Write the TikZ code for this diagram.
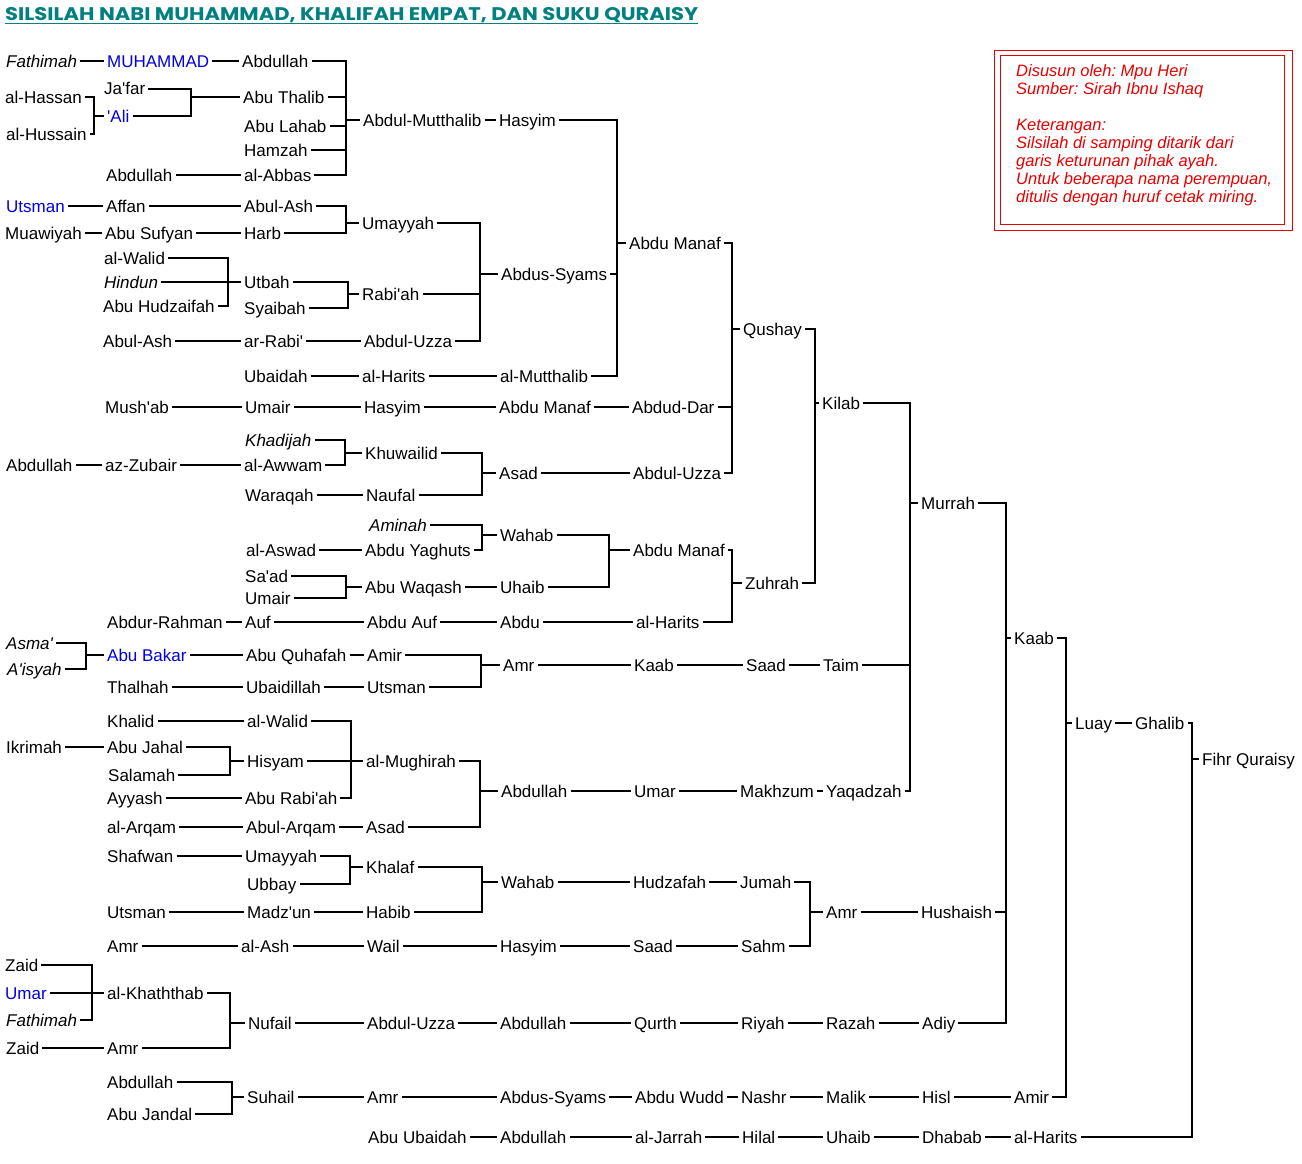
\documentclass[tikz,border=0pt]{standalone}
\usepackage{fontspec}
\usepackage{graphicx}
\setmainfont{Liberation Sans}
\newfontfamily\titlefont{Poppins}
\definecolor{titleteal}{RGB}{0,128,128}
\definecolor{nabiblue}{RGB}{0,0,230}
\definecolor{notered}{RGB}{230,0,0}
\newcommand{\ap}{\textquotesingle}
% children on the left joined by one bar to the parent on the right
\newcommand{\sibs}[3]{\foreach \kid in {#3}{\draw[ln] (\kid.east) -- (\kid.east -| #1) |- (#2.west);}}

\begin{document}
\frenchspacing
\begin{tikzpicture}[x=1pt, y=-1pt,
    every node/.style={anchor=west, inner xsep=3pt, inner ysep=1pt, text height=12pt, text depth=0pt, font=\fontsize{17}{20}\selectfont},
    ln/.style={line width=2pt},
    fem/.style={font=\fontsize{17}{20}\selectfont\itshape},
    nabi/.style={text=nabiblue}]
  \fill[white] (0,0) rectangle (1302,1164);
  \useasboundingbox (0,0) rectangle (1302,1164);

  % title and note
  \node[anchor=base west, inner sep=0pt, text height=, text depth=, text=titleteal, font=\titlefont\bfseries] (title) at (5,21) {\resizebox{693pt}{13pt}{SILSILAH NABI MUHAMMAD, KHALIFAH EMPAT, DAN SUKU QURAISY}};
  \draw[titleteal, line width=1.5pt] ([yshift=-2.5pt]title.base west) -- ([yshift=-2.5pt]title.base east);
  \draw[notered, line width=1pt] (994,51) rectangle (1292,230);
  \draw[notered, line width=1pt] (1000,56) rectangle (1284,224);
  \node[anchor=north west, inner sep=0pt, text height=, text depth=, align=left, text=notered, font=\fontsize{16.5}{18}\selectfont\itshape] (note) at (1016,64) {Disusun oleh: Mpu Heri\\Sumber: Sirah Ibnu Ishaq\\[18pt]Keterangan:\\Silsilah di samping ditarik dari\\garis keturunan pihak ayah.\\Untuk beberapa nama perempuan,\\ditulis dengan huruf cetak miring.};

  % column 1
  \node[fem] (fathimahA) at (3,61) {Fathimah};
  \node (hassan) at (2,97) {al-Hassan};
  \node (hussain) at (3,134) {al-Hussain};
  \node[nabi] (utsmanA) at (3,206) {Utsman};
  \node (muawiyah) at (2,233) {Muawiyah};
  \node (abdullahZ) at (3,465) {Abdullah};
  \node[fem] (asma) at (3,643) {Asma\ap};
  \node[fem] (aisyah) at (4,669) {A\ap isyah};
  \node (ikrimah) at (3,747) {Ikrimah};
  \node (zaidA) at (2,965) {Zaid};
  \node[nabi] (umarA) at (2,993) {Umar};
  \node[fem] (fathimahB) at (3,1020) {Fathimah};
  \node (zaidB) at (3,1048) {Zaid};

  % column 2
  \node[nabi] (muhammad) at (104,61) {MUHAMMAD};
  \node (jafar) at (101,89) {Ja\ap far};
  \node[nabi] (ali) at (104,116) {\ap Ali};
  \node (abdullahB) at (103,175) {Abdullah};
  \node (affan) at (103,206) {Affan};
  \node (abusufyan) at (102,233) {Abu Sufyan};
  \node (walidA) at (101,258) {al-Walid};
  \node[fem] (hindun) at (101,282) {Hindun};
  \node (abuhudzaifah) at (100,306) {Abu Hudzaifah};
  \node (abulashA) at (100,341) {Abul-Ash};
  \node (mushab) at (102,407) {Mush\ap ab};
  \node (zubair) at (102,465) {az-Zubair};
  \node (abdurrahman) at (104,622) {Abdur-Rahman};
  \node[nabi] (abubakar) at (104,655) {Abu Bakar};
  \node (thalhah) at (104,687) {Thalhah};
  \node (khalid) at (104,721) {Khalid};
  \node (abujahal) at (104,747) {Abu Jahal};
  \node (salamah) at (105,775) {Salamah};
  \node (ayyash) at (104,798) {Ayyash};
  \node (arqam) at (104,827) {al-Arqam};
  \node (shafwan) at (104,856) {Shafwan};
  \node (utsmanM) at (104,912) {Utsman};
  \node (amrA) at (104,946) {Amr};
  \node (khaththab) at (104,993) {al-Khaththab};
  \node (amrK) at (104,1048) {Amr};
  \node (abdullahS) at (104,1082) {Abdullah};
  \node (abujandal) at (104,1114) {Abu Jandal};

  % column 3
  \node (abdullahM) at (239,61) {Abdullah};
  \node (abuthalib) at (240,97) {Abu Thalib};
  \node (abulahab) at (241,126) {Abu Lahab};
  \node (hamzah) at (241,150) {Hamzah};
  \node (abbas) at (241,175) {al-Abbas};
  \node (abulashB) at (241,206) {Abul-Ash};
  \node (harb) at (241,233) {Harb};
  \node (utbah) at (241,282) {Utbah};
  \node (syaibah) at (241,308) {Syaibah};
  \node (rabi) at (241,341) {ar-Rabi\ap};
  \node (ubaidah) at (241,376) {Ubaidah};
  \node (umairA) at (242,407) {Umair};
  \node[fem] (khadijah) at (242,440) {Khadijah};
  \node (awwam) at (241,465) {al-Awwam};
  \node (waraqah) at (242,495) {Waraqah};
  \node (aswad) at (243,550) {al-Aswad};
  \node (saadW) at (242,576) {Sa\ap ad};
  \node (umairB) at (242,598) {Umair};
  \node (auf) at (242,622) {Auf};
  \node (abuquhafah) at (243,655) {Abu Quhafah};
  \node (ubaidillah) at (243,687) {Ubaidillah};
  \node (walidB) at (244,721) {al-Walid};
  \node (hisyam) at (244,761) {Hisyam};
  \node (aburabiah) at (242,798) {Abu Rabi\ap ah};
  \node (abularqam) at (243,827) {Abul-Arqam};
  \node (umayyahB) at (242,856) {Umayyah};
  \node (ubbay) at (244,884) {Ubbay};
  \node (madzun) at (244,912) {Madz\ap un};
  \node (ash) at (238,946) {al-Ash};
  \node (nufail) at (245,1023) {Nufail};
  \node (suhail) at (244,1097) {Suhail};

  % column 4
  \node (mutthalibA) at (360,120) {Abdul-Mutthalib};
  \node (umayyahA) at (359,223) {Umayyah};
  \node (rabiah) at (359,294) {Rabi\ap ah};
  \node (uzzaA) at (361,341) {Abdul-Uzza};
  \node (haritsA) at (359,376) {al-Harits};
  \node (hasyimB) at (361,407) {Hasyim};
  \node (khuwailid) at (362,453) {Khuwailid};
  \node (naufal) at (363,495) {Naufal};
  \node[fem] (aminah) at (366,525) {Aminah};
  \node (yaghuts) at (362,550) {Abdu Yaghuts};
  \node (abuwaqash) at (362,587) {Abu Waqash};
  \node (abduauf) at (364,622) {Abdu Auf};
  \node (amirA) at (364,655) {Amir};
  \node (utsmanT) at (364,687) {Utsman};
  \node (mughirah) at (363,761) {al-Mughirah};
  \node (asadM) at (363,827) {Asad};
  \node (khalaf) at (363,867) {Khalaf};
  \node (habib) at (363,912) {Habib};
  \node (wail) at (364,946) {Wail};
  \node (uzzaB) at (364,1023) {Abdul-Uzza};
  \node (amrS) at (364,1097) {Amr};
  \node (abuubaidah) at (365,1137) {Abu Ubaidah};

  % column 5
  \node (hasyimA) at (496,120) {Hasyim};
  \node (syamsA) at (498,274) {Abdus-Syams};
  \node (mutthalibB) at (497,376) {al-Mutthalib};
  \node (abdumanafC) at (496,407) {Abdu Manaf};
  \node (asadK) at (496,473) {Asad};
  \node (wahabZ) at (497,535) {Wahab};
  \node (uhaibA) at (497,587) {Uhaib};
  \node (abdu) at (497,622) {Abdu};
  \node (amrT) at (500,665) {Amr};
  \node (abdullahMk) at (498,791) {Abdullah};
  \node (wahabJ) at (498,882) {Wahab};
  \node (hasyimS) at (497,946) {Hasyim};
  \node (abdullahA) at (497,1023) {Abdullah};
  \node (syamsB) at (497,1097) {Abdus-Syams};
  \node (abdullahJ) at (497,1137) {Abdullah};

  % column 6
  \node (abdumanafA) at (626,243) {Abdu Manaf};
  \node (abduddar) at (629,407) {Abdud-Dar};
  \node (uzzaQ) at (630,473) {Abdul-Uzza};
  \node (abdumanafZ) at (630,550) {Abdu Manaf};
  \node (haritsZ) at (633,622) {al-Harits};
  \node (kaabT) at (631,665) {Kaab};
  \node (umarM) at (631,791) {Umar};
  \node (hudzafah) at (630,882) {Hudzafah};
  \node (saadS) at (630,946) {Saad};
  \node (qurth) at (631,1023) {Qurth};
  \node (abduwudd) at (632,1097) {Abdu Wudd};
  \node (jarrah) at (632,1137) {al-Jarrah};

  % column 7
  \node (qushay) at (740,329) {Qushay};
  \node (zuhrah) at (742,583) {Zuhrah};
  \node (saadT) at (743,665) {Saad};
  \node (makhzum) at (737,791) {Makhzum};
  \node (jumah) at (737,882) {Jumah};
  \node (sahm) at (738,946) {Sahm};
  \node (riyah) at (738,1023) {Riyah};
  \node (nashr) at (738,1097) {Nashr};
  \node (hilal) at (739,1137) {Hilal};

  % column 8
  \node (kilab) at (819,403) {Kilab};
  \node (taim) at (820,665) {Taim};
  \node (yaqadzah) at (823,791) {Yaqadzah};
  \node (amrH) at (823,912) {Amr};
  \node (razah) at (823,1023) {Razah};
  \node (malik) at (823,1097) {Malik};
  \node (uhaibB) at (823,1137) {Uhaib};

  % columns 9 to 11
  \node (murrah) at (918,503) {Murrah};
  \node (hushaish) at (918,912) {Hushaish};
  \node (adiy) at (919,1023) {Adiy};
  \node (hisl) at (919,1097) {Hisl};
  \node (dhabab) at (919,1137) {Dhabab};
  \node (kaabM) at (1011,638) {Kaab};
  \node (amirL) at (1011,1097) {Amir};
  \node (haritsF) at (1011,1137) {al-Harits};
  \node (luay) at (1072,723) {Luay};
  \node (ghalib) at (1132,723) {Ghalib};
  \node (fihr) at (1199,759) {Fihr Quraisy};

  % bars
  \coordinate (barKh) at (92,0);
  \coordinate (barHn) at (94,0);
  \coordinate (barAB) at (86,0);
  \coordinate (barJf) at (191,0);
  \coordinate (barUt) at (228,0);
  \coordinate (barHy) at (230,0);
  \coordinate (barNf) at (230,0);
  \coordinate (barSh) at (232,0);
  \coordinate (barKw) at (345,0);
  \coordinate (barMt) at (346,0);
  \coordinate (barUm) at (346,0);
  \coordinate (barAW) at (346,0);
  \coordinate (barRb) at (348,0);
  \coordinate (barKf) at (350,0);
  \coordinate (barMg) at (351,0);
  \coordinate (barAS) at (480,0);
  \coordinate (barAd) at (480,0);
  \coordinate (barAr) at (481,0);
  \coordinate (barAsd) at (482,0);
  \coordinate (barWh) at (482,0);
  \coordinate (barWb) at (482,0);
  \coordinate (barAM) at (609,0);
  \coordinate (barHs) at (617,0);
  \coordinate (barQs) at (732,0);
  \coordinate (barZh) at (732,0);
  \coordinate (barAm) at (810,0);
  \coordinate (barKl) at (815,0);
  \coordinate (barMr) at (910,0);
  \coordinate (barKb) at (1006,0);
  \coordinate (barLy) at (1066,0);
  \coordinate (barFh) at (1192,0);

  % families
  \sibs{barHn}{ali}{hassan,hussain}
  \sibs{barJf}{abuthalib}{jafar,ali}
  \sibs{barMt}{mutthalibA}{abdullahM,abuthalib,abulahab,hamzah,abbas}
  \sibs{barHs}{abdumanafA}{hasyimA,syamsA,mutthalibB}
  \sibs{barQs}{qushay}{abdumanafA,abduddar,uzzaQ}
  \sibs{barZh}{zuhrah}{abdumanafZ,haritsZ}
  \sibs{barKl}{kilab}{qushay,zuhrah}
  \sibs{barMr}{murrah}{kilab,taim,yaqadzah}
  \sibs{barKb}{kaabM}{murrah,hushaish,adiy}
  \sibs{barLy}{luay}{kaabM,amirL}
  \sibs{barFh}{fihr}{ghalib,haritsF}
  \sibs{barUm}{umayyahA}{abulashB,harb}
  \sibs{barAS}{syamsA}{umayyahA,rabiah,uzzaA}
  \sibs{barUt}{utbah}{walidA,abuhudzaifah}
  \sibs{barRb}{rabiah}{utbah,syaibah}
  \sibs{barKw}{khuwailid}{khadijah,awwam}
  \sibs{barAsd}{asadK}{khuwailid,naufal}
  \sibs{barWh}{wahabZ}{aminah,yaghuts}
  \sibs{barAM}{abdumanafZ}{wahabZ,uhaibA}
  \sibs{barAW}{abuwaqash}{saadW,umairB}
  \sibs{barAB}{abubakar}{asma,aisyah}
  \sibs{barAr}{amrT}{amirA,utsmanT}
  \sibs{barMg}{mughirah}{walidB,aburabiah}
  \sibs{barHy}{hisyam}{abujahal,salamah}
  \sibs{barAd}{abdullahMk}{mughirah,asadM}
  \sibs{barKf}{khalaf}{umayyahB,ubbay}
  \sibs{barWb}{wahabJ}{khalaf,habib}
  \sibs{barAm}{amrH}{jumah,sahm}
  \sibs{barKh}{khaththab}{zaidA,fathimahB}
  \sibs{barNf}{nufail}{khaththab,amrK}
  \sibs{barSh}{suhail}{abdullahS,abujandal}

  % straight lines
  \draw[ln] (fathimahA) -- (muhammad);
  \draw[ln] (muhammad) -- (abdullahM);
  \draw[ln] (mutthalibA) -- (hasyimA);
  \draw[ln] (abdullahB) -- (abbas);
  \draw[ln] (utsmanA) -- (affan);
  \draw[ln] (affan) -- (abulashB);
  \draw[ln] (muawiyah) -- (abusufyan);
  \draw[ln] (abusufyan) -- (harb);
  \draw[ln] (hindun) -- (utbah);
  \draw[ln] (abulashA) -- (rabi);
  \draw[ln] (rabi) -- (uzzaA);
  \draw[ln] (ubaidah) -- (haritsA);
  \draw[ln] (haritsA) -- (mutthalibB);
  \draw[ln] (mushab) -- (umairA);
  \draw[ln] (umairA) -- (hasyimB);
  \draw[ln] (hasyimB) -- (abdumanafC);
  \draw[ln] (abdumanafC) -- (abduddar);
  \draw[ln] (abdullahZ) -- (zubair);
  \draw[ln] (zubair) -- (awwam);
  \draw[ln] (waraqah) -- (naufal);
  \draw[ln] (asadK) -- (uzzaQ);
  \draw[ln] (aswad) -- (yaghuts);
  \draw[ln] (abuwaqash) -- (uhaibA);
  \draw[ln] (abdurrahman) -- (auf);
  \draw[ln] (auf) -- (abduauf);
  \draw[ln] (abduauf) -- (abdu);
  \draw[ln] (abdu) -- (haritsZ);
  \draw[ln] (abubakar) -- (abuquhafah);
  \draw[ln] (abuquhafah) -- (amirA);
  \draw[ln] (thalhah) -- (ubaidillah);
  \draw[ln] (ubaidillah) -- (utsmanT);
  \draw[ln] (amrT) -- (kaabT);
  \draw[ln] (kaabT) -- (saadT);
  \draw[ln] (saadT) -- (taim);
  \draw[ln] (khalid) -- (walidB);
  \draw[ln] (ikrimah) -- (abujahal);
  \draw[ln] (hisyam) -- (mughirah);
  \draw[ln] (ayyash) -- (aburabiah);
  \draw[ln] (arqam) -- (abularqam);
  \draw[ln] (abularqam) -- (asadM);
  \draw[ln] (abdullahMk) -- (umarM);
  \draw[ln] (umarM) -- (makhzum);
  \draw[ln] (makhzum) -- (yaqadzah);
  \draw[ln] (shafwan) -- (umayyahB);
  \draw[ln] (wahabJ) -- (hudzafah);
  \draw[ln] (hudzafah) -- (jumah);
  \draw[ln] (amrH) -- (hushaish);
  \draw[ln] (utsmanM) -- (madzun);
  \draw[ln] (madzun) -- (habib);
  \draw[ln] (amrA) -- (ash);
  \draw[ln] (ash) -- (wail);
  \draw[ln] (wail) -- (hasyimS);
  \draw[ln] (hasyimS) -- (saadS);
  \draw[ln] (saadS) -- (sahm);
  \draw[ln] (umarA) -- (khaththab);
  \draw[ln] (zaidB) -- (amrK);
  \draw[ln] (nufail) -- (uzzaB);
  \draw[ln] (uzzaB) -- (abdullahA);
  \draw[ln] (abdullahA) -- (qurth);
  \draw[ln] (qurth) -- (riyah);
  \draw[ln] (riyah) -- (razah);
  \draw[ln] (razah) -- (adiy);
  \draw[ln] (suhail) -- (amrS);
  \draw[ln] (amrS) -- (syamsB);
  \draw[ln] (syamsB) -- (abduwudd);
  \draw[ln] (abduwudd) -- (nashr);
  \draw[ln] (nashr) -- (malik);
  \draw[ln] (malik) -- (hisl);
  \draw[ln] (hisl) -- (amirL);
  \draw[ln] (abuubaidah) -- (abdullahJ);
  \draw[ln] (abdullahJ) -- (jarrah);
  \draw[ln] (jarrah) -- (hilal);
  \draw[ln] (hilal) -- (uhaibB);
  \draw[ln] (uhaibB) -- (dhabab);
  \draw[ln] (dhabab) -- (haritsF);
  \draw[ln] (luay) -- (ghalib);
\end{tikzpicture}
\end{document}
